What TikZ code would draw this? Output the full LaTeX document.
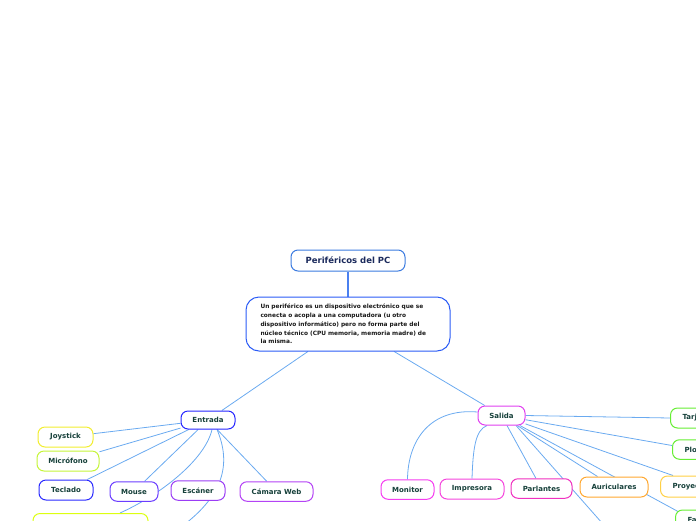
\documentclass[tikz,border=0pt]{standalone}
\usepackage{fontspec}
\setmainfont{DejaVu Sans}
\usetikzlibrary{backgrounds}
\definecolor{titleblue}{HTML}{3B7BE0}
\definecolor{titletext}{HTML}{1B2A5C}
\definecolor{descblue}{HTML}{2B5CF6}
\definecolor{stemblue}{HTML}{4A80F0}
\definecolor{linkblue}{HTML}{6AAAF0}
\definecolor{txtgreen}{HTML}{16403A}
\definecolor{cEntrada}{HTML}{2626FF}
\definecolor{cSalida}{HTML}{E040F0}
\definecolor{cJoy}{HTML}{F2EE30}
\definecolor{cMic}{HTML}{C5F53A}
\definecolor{cTec}{HTML}{2A2AFF}
\definecolor{cMou}{HTML}{6B3DFF}
\definecolor{cEsc}{HTML}{9B3DF5}
\definecolor{cCam}{HTML}{B443F5}
\definecolor{cYel}{HTML}{DDFF10}
\definecolor{cMon}{HTML}{F53CF0}
\definecolor{cImp}{HTML}{F545DD}
\definecolor{cPar}{HTML}{F030C0}
\definecolor{cAur}{HTML}{FFA830}
\definecolor{cPro}{HTML}{FFD045}
\definecolor{cGrn}{HTML}{66EE33}
\begin{document}
\begin{tikzpicture}[x=1pt,y=-1pt,line cap=round,line join=round,
  topic/.style={draw=#1,fill=white,line width=1pt,rounded corners=7pt,inner sep=0pt,
    minimum height=19.5pt,font=\fontsize{7}{8}\selectfont\bfseries,text=txtgreen},
  cutoff/.style={topic=#1,anchor=west,text width=60pt,inner xsep=12pt,align=left},
  link/.style={draw=linkblue,line width=0.8pt}]
  \useasboundingbox (0,0) rectangle (696,520);
  \clip (0,0) rectangle (696,520);
  \node[topic=titleblue,minimum width=114pt,minimum height=21pt,
    font=\fontsize{8.5}{10}\selectfont\bfseries,text=titletext] (root) at (348,260.5) {Periféricos del PC};
  \node[draw=descblue,fill=white,line width=1pt,rounded corners=13pt,minimum width=204pt,
    minimum height=54pt,inner sep=0pt,text width=175pt,align=left,text=black!90,
    font=\fontsize{5.85}{8.8}\selectfont\bfseries] (desc) at (348,324)
    {Un periférico es un dispositivo electrónico que se\\
     conecta o acopla a una computadora (u otro\\
     dispositivo informático) pero no forma parte del\\
     núcleo técnico (CPU memoria, memoria madre) de\\
     la misma.};
  \node[topic=cEntrada,minimum width=54pt,minimum height=18pt] (entrada) at (208,420) {Entrada};
  \node[topic=cSalida,minimum width=47pt,minimum height=19pt] (salida) at (501.5,415.5) {Salida};
  \node[topic=cJoy,minimum width=55pt,minimum height=20pt] (joy) at (65.5,437) {Joystick};
  \node[topic=cMic,minimum width=62pt,minimum height=20pt] (mic) at (68,461) {Micrófono};
  \node[topic=cTec,minimum width=54pt,minimum height=20pt] (tec) at (66,490) {Teclado};
  \node[topic=cMou,minimum width=48pt] (mou) at (134,491.5) {Mouse};
  \node[topic=cEsc,minimum width=54pt] (esc) at (198,490.5) {Escáner};
  \node[topic=cCam,minimum width=73pt] (cam) at (276.5,491.5) {Cámara Web};
  \node[topic=cYel,minimum width=115pt,minimum height=20pt] (yel) at (90.5,523.5) {};
  \node[topic=cMon,minimum width=53pt] (mon) at (407.5,489.5) {Monitor};
  \node[topic=cImp,minimum width=64pt,minimum height=20pt] (imp) at (472,489) {Impresora};
  \node[topic=cPar,minimum width=61pt] (par) at (541.5,488.5) {Parlantes};
  \node[topic=cAur,minimum width=68pt,minimum height=20pt] (aur) at (614,487) {Auriculares};
  \node[cutoff=cGrn,minimum height=20pt] (tar) at (670,418) {Tarj};
  \node[cutoff=cGrn] (plo) at (672,449.5) {Plo};
  \node[cutoff=cPro,minimum height=21pt] (pro) at (660,486.5) {Proyec};
  \node[cutoff=cGrn,minimum height=20pt] (fa) at (675,520) {Fa};
  \coordinate (escbelow) at (185,524);
  \coordinate (parbelow) at (610,532);
  \begin{pgfonlayer}{background}
    \draw[draw=stemblue,line width=1.2pt] (root) -- (desc);
    \draw[link] (desc) -- (entrada);
    \draw[link] (desc) -- (salida);
    \draw[link] (entrada) -- (joy);
    \draw[link] (entrada) -- (mic);
    \draw[link] (entrada) -- (tec);
    \draw[link] (entrada) -- (mou);
    \draw[link] (entrada) -- (cam);
    \draw[link] ([xshift=4pt]entrada.south) .. controls (205,460) and (160,495) .. ([xshift=29.5pt]yel.north);
    \draw[link] ([xshift=9pt]entrada.south) .. controls (232,465) and (222,495) .. (escbelow);
    \draw[link] ([yshift=3.5pt]salida.west) .. controls (430,408) and (408,440) .. (mon.north);
    \draw[link] ([xshift=-14.5pt]salida.south) .. controls (475,430) and (473,450) .. (imp.north);
    \draw[link] (salida) -- (par);
    \draw[link] ([xshift=14.5pt]salida.south) -- (parbelow);
    \draw[link] (salida) -- (aur);
    \draw[link] (salida) -- ([xshift=3pt,yshift=-2pt]fa.north west);
    \draw[link] (salida.east) -- (tar.west);
    \draw[link] (salida) -- ([yshift=4pt]plo.west);
    \draw[link] (salida) -- ([xshift=13pt]pro.north west);
  \end{pgfonlayer}
\end{tikzpicture}
\end{document}
